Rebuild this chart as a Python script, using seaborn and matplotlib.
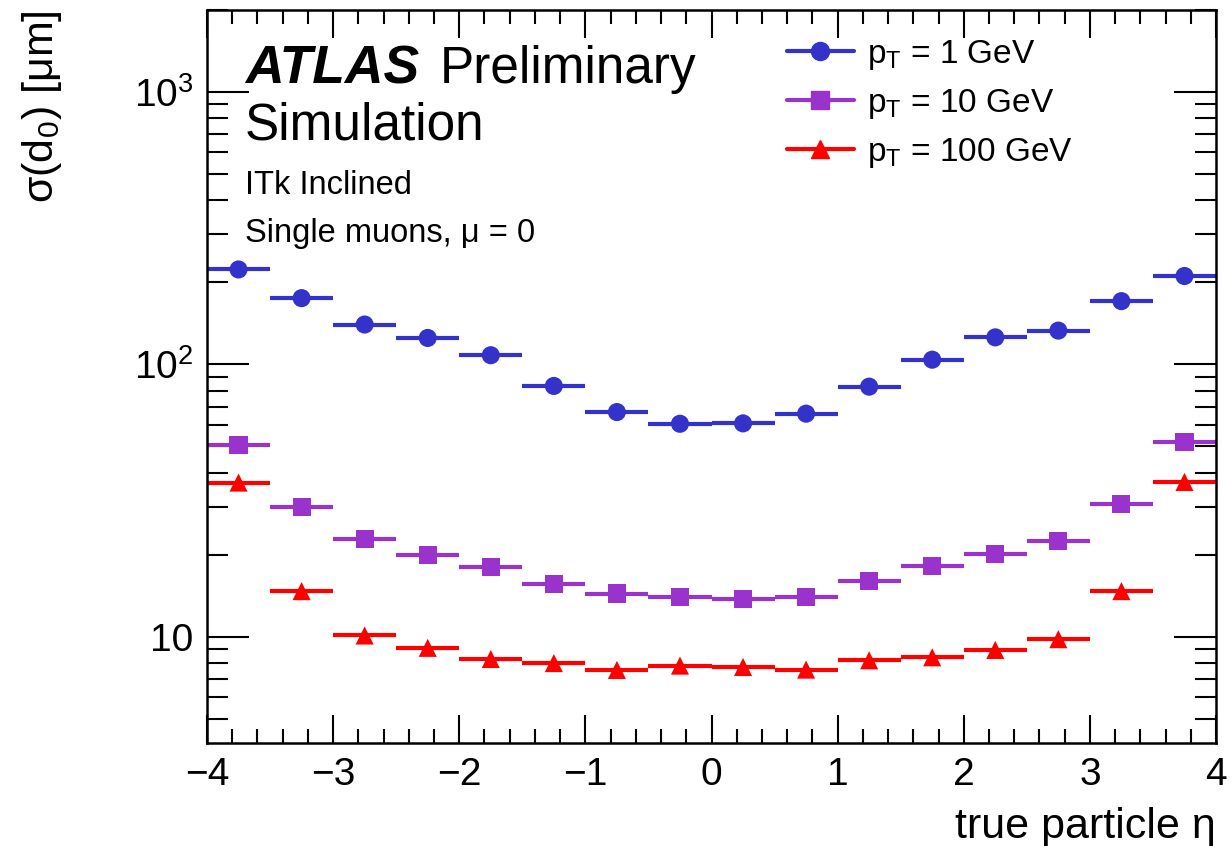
import numpy as np
import pandas as pd
import matplotlib
matplotlib.use("Agg")
import matplotlib.pyplot as plt
import seaborn as sns
from matplotlib.lines import Line2D
from matplotlib.ticker import FixedLocator, FixedFormatter, LogLocator, NullFormatter, MultipleLocator

eta = [-3.75, -3.25, -2.75, -2.25, -1.75, -1.25, -0.75, -0.25,
       0.25, 0.75, 1.25, 1.75, 2.25, 2.75, 3.25, 3.75]
half_width = 0.25
pt1 = [223, 175, 140, 125, 108, 83.3, 66.8, 60.5,
       60.7, 65.9, 82.8, 104, 125.6, 133, 170.6, 211]
pt10 = [50.6, 29.9, 22.9, 19.9, 18.0, 15.6, 14.4, 14.0,
        13.75, 13.95, 16.0, 18.2, 20.1, 22.5, 30.6, 51.9]
pt100 = [36.8, 14.7, 10.1, 9.1, 8.28, 8.0, 7.55, 7.83,
         7.74, 7.57, 8.19, 8.40, 8.94, 9.79, 14.7, 37.0]
labels = ["p$_{\\mathrm{T}}$ = 1 GeV", "p$_{\\mathrm{T}}$ = 10 GeV", "p$_{\\mathrm{T}}$ = 100 GeV"]
colors = ["#3333CC", "#9933CC", "#FF0000"]
markers = ["o", "s", "^"]

rows = []
for lab, vals in zip(labels, [pt1, pt10, pt100]):
    for e, v in zip(eta, vals):
        rows.append({"eta": e, "sigma": v, "series": lab})
df = pd.DataFrame(rows)

sns.set_style("ticks")
plt.rcParams["font.family"] = ["Liberation Sans", "DejaVu Sans"]
plt.rcParams["mathtext.fontset"] = "custom"
plt.rcParams["mathtext.rm"] = "Liberation Sans"
plt.rcParams["mathtext.it"] = "Liberation Sans:italic"
plt.rcParams["mathtext.bf"] = "Liberation Sans:bold"
plt.rcParams["text.color"] = "black"
plt.rcParams["axes.labelcolor"] = "black"
plt.rcParams["xtick.color"] = "black"
plt.rcParams["ytick.color"] = "black"

fig = plt.figure(figsize=(12.31, 8.46), dpi=100)
ax = fig.add_axes([207/1231, 1-743/846, (1216-207)/1231, (743-10)/846])

palette = dict(zip(labels, colors))
mk = dict(zip(labels, markers))

# horizontal bin-width bars
for lab, col in zip(labels, colors):
    sub = df[df.series == lab]
    ax.hlines(sub.sigma, sub.eta - half_width, sub.eta + half_width,
              colors=col, lw=3.0, zorder=2)

sns.scatterplot(data=df, x="eta", y="sigma", hue="series", style="series",
                palette=palette, markers=mk, s=170, edgecolor="none",
                legend=False, ax=ax, zorder=3)

ax.set_yscale("log")
ax.set_xlim(-4, 4)
ax.set_ylim(4.07, 2000)

ax.xaxis.set_major_locator(MultipleLocator(1))
ax.xaxis.set_minor_locator(MultipleLocator(0.2))
ax.yaxis.set_major_locator(FixedLocator([10, 100, 1000]))
ax.yaxis.set_major_formatter(FixedFormatter(["10", "$10^{2}$", "$10^{3}$"]))
ax.yaxis.set_minor_locator(LogLocator(base=10, subs=np.arange(2, 10)))
ax.yaxis.set_minor_formatter(NullFormatter())

ax.tick_params(axis="both", which="both", direction="in", top=True, right=True, width=1.5,
               colors="black")
ax.tick_params(axis="x", which="major", length=20, pad=10, labelsize=28)
ax.tick_params(axis="x", which="minor", length=10)
ax.tick_params(axis="y", which="major", length=30, pad=10, labelsize=28)
ax.tick_params(axis="y", which="minor", length=15)
for s in ax.spines.values():
    s.set_linewidth(1.8)
    s.set_color("black")

ax.set_xlabel("true particle η", fontsize=31, ha="right", x=1.0, labelpad=10)
ax.set_ylabel("σ(d$_{\\mathrm{0}}$) [μm]", fontsize=31, ha="right", y=1.0, labelpad=50)

# ATLAS label
ax.text(245/1231, 1-83/846, "ATLAS", transform=fig.transFigure, fontsize=38.5,
        fontweight="bold", fontstyle="italic", va="baseline")
ax.text(440/1231, 1-83/846, "Preliminary", transform=fig.transFigure, fontsize=37,
        va="baseline")
ax.text(245/1231, 1-140/846, "Simulation", transform=fig.transFigure, fontsize=37,
        va="baseline")
ax.text(245/1231, 1-194/846, "ITk Inclined", transform=fig.transFigure, fontsize=23.5,
        va="baseline")
ax.text(245/1231, 1-242/846, "Single muons, μ = 0", transform=fig.transFigure, fontsize=23.5,
        va="baseline")

handles = [Line2D([], [], color=c, marker=m, lw=3, markersize=13, markeredgecolor=c)
           for c, m in zip(colors, markers)]
leg = ax.legend(handles, labels, loc="upper left", bbox_to_anchor=(787/1231, 1-38/846),
                bbox_transform=fig.transFigure, frameon=False, fontsize=24,
                handlelength=2.0, handletextpad=0.4, labelspacing=0.45, borderpad=0,
                borderaxespad=0)

fig.savefig("out.png", dpi=100)
